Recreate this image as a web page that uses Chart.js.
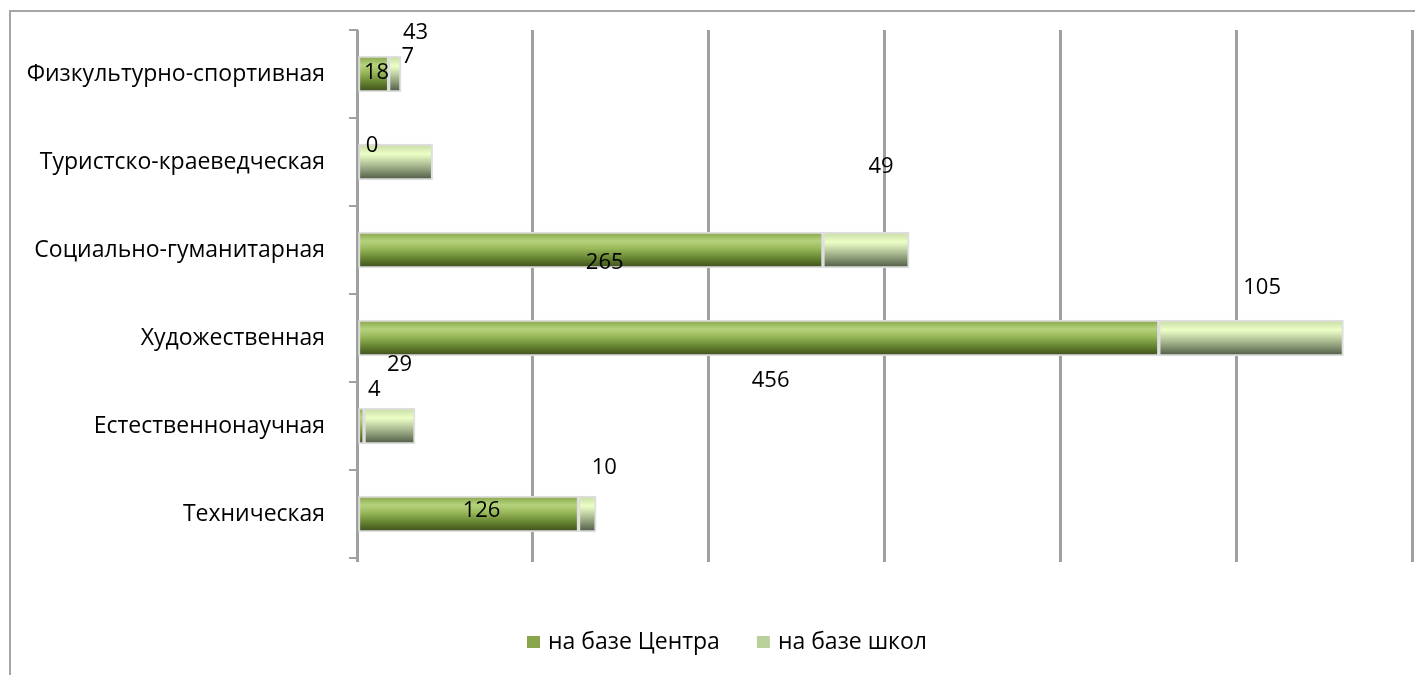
<!DOCTYPE html>
<html>
<head>
<meta charset="utf-8">
<script src="https://cdn.jsdelivr.net/npm/chart.js@4/dist/chart.umd.min.js"></script>
<style>
  html, body { margin: 0; padding: 0; background: #fff; }
  canvas { display: block; }
</style>
</head>
<body>
<canvas id="myChart" width="1415" height="675"></canvas>
<script>
// données du graphique
const categories = ['Физкультурно-спортивная', 'Туристско-краеведческая', 'Социально-гуманитарная', 'Художественная', 'Естественнонаучная', 'Техническая'];
const centreValues = [18, 0, 265, 456, 4, 126];
const schoolValues = [7, 43, 49, 105, 29, 10];
const seriesNames = ['на базе Центра', 'на базе школ'];
const xMax = 600;
const xStep = 100;

// décalage des étiquettes (px) par rapport au centre du segment, comme dans l'original
const centreLabelShift = [[3, -1], [15, -16], [14, 13], [12, 43], [13, -36], [13, -3]];
const schoolLabelShift = [[13, -17], [20, -129], [15, -83], [11, -50], [10, -61], [17, -46]];

const legendColors = ['#8aa64c', '#b9d09a'];
const centreStops = [[0, '#84a245'], [0.25, '#b5d37d'], [0.45, '#9aba5c'], [0.75, '#62802f'], [1, '#3a4a1c']];
const schoolStops = [[0, '#c6d9a2'], [0.28, '#ecffc6'], [0.5, '#bfcfa3'], [0.78, '#7f8d6d'], [1, '#4a5540']];
const font = "'Open Sans', sans-serif";

function barFill(c, stops, solid) {
    const chart = c.chart;
    const y = chart.scales.y;
    if (!chart.chartArea || !y || c.dataIndex === undefined) return solid;
    const cy = y.getPixelForValue(c.dataIndex);
    const g = chart.ctx.createLinearGradient(0, cy - 18, 0, cy + 18);
    stops.forEach(s => g.addColorStop(s[0], s[1]));
    return g;
}

// cadre, étiquettes et légende
const extras = {
    id: 'extras',
    beforeDraw(chart) {
        const c = chart.ctx;
        c.save();
        c.strokeStyle = '#a6a6a6';
        c.lineWidth = 2;
        c.beginPath();
        c.moveTo(10, 675);
        c.lineTo(10, 11);
        c.lineTo(1415, 11);
        c.stroke();
        c.restore();
    },
    afterDatasetsDraw(chart) {
        const c = chart.ctx;
        c.save();
        c.font = '22px ' + font;
        c.fillStyle = '#000';
        c.textAlign = 'center';
        c.textBaseline = 'middle';
        const shifts = [centreLabelShift, schoolLabelShift];
        chart.data.datasets.forEach((ds, i) => {
            chart.getDatasetMeta(i).data.forEach((bar, j) => {
                const cx = (bar.x + bar.base) / 2;
                c.fillText(String(ds.data[j]), cx + shifts[i][j][0], bar.y + shifts[i][j][1]);
            });
        });
        c.restore();
    },
    afterDraw(chart) {
        const c = chart.ctx;
        c.save();
        c.font = '23px ' + font;
        c.fillStyle = '#000';
        c.textBaseline = 'middle';
        let x = 527;
        const y = 642;
        chart.data.datasets.forEach((ds, i) => {
            c.fillStyle = legendColors[i];
            c.fillRect(x, y - 6, 13, 12);
            c.fillStyle = '#000';
            c.fillText(ds.label, x + 21, y);
            x += 21 + c.measureText(ds.label).width + 37;
        });
        c.restore();
    }
};

new Chart(document.getElementById('myChart'), {
    type: 'bar',
    data: {
        labels: categories,
        datasets: [{
            label: seriesNames[0],
            data: centreValues,
            backgroundColor: c => barFill(c, centreStops, legendColors[0]),
            borderColor: '#dedede',
            borderWidth: 2,
            borderSkipped: false,
            barThickness: 36,
        }, {
            label: seriesNames[1],
            data: schoolValues,
            backgroundColor: c => barFill(c, schoolStops, legendColors[1]),
            borderColor: '#dedede',
            borderWidth: 2,
            borderSkipped: false,
            barThickness: 36,
        }]
    },
    options: {
        indexAxis: 'y',
        responsive: false,
        animation: false,
        layout: { padding: { top: 30, right: 3, bottom: 113, left: 0 } },
        plugins: {
            legend: { display: false },
            tooltip: { enabled: false },
        },
        scales: {
            x: {
                stacked: true,
                min: 0,
                max: xMax,
                ticks: { display: false, stepSize: xStep },
                grid: { color: '#a0a0a0', lineWidth: 3, tickLength: 4, drawTicks: true },
                border: { display: false },
                afterFit: s => { s.height = 4; },
            },
            y: {
                stacked: true,
                ticks: { font: { family: font, size: 23 }, color: '#000', padding: 24 },
                grid: { drawOnChartArea: false, color: '#a0a0a0', lineWidth: 2, tickLength: 8 },
                border: { color: '#a0a0a0', width: 2 },
                afterFit: s => {
                    s.width = 357;
                    s.paddingTop = 0;
                    s.paddingBottom = 0;
                },
            },
        },
    },
    plugins: [extras],
});
</script>
</body>
</html>
